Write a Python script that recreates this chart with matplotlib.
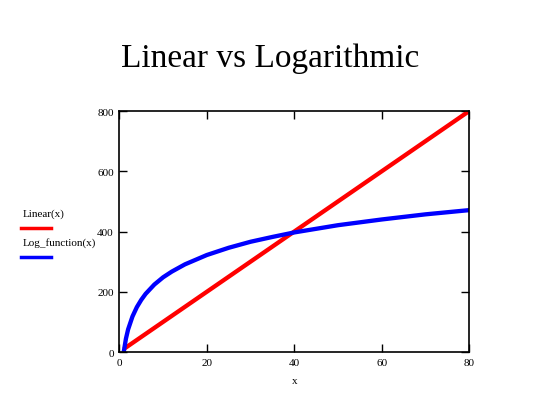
import numpy as np
import matplotlib.pyplot as plt
from matplotlib.lines import Line2D

# values
x_vals = [1, 1.5, 2, 3, 4, 5, 6, 8, 10, 12, 15, 20, 25, 30, 35, 40, 45, 50, 60, 70, 80]
linear_vals = [10, 15, 20, 30, 40, 50, 60, 80, 100, 120, 150, 200, 250, 300, 350, 400, 450, 500, 600, 700, 800]
log_vals = [0, 44, 75, 118, 149, 173, 193, 224, 248, 267, 291, 322, 346, 366, 382, 397, 409, 421, 440, 457, 471]

x_ticks = [0, 20, 40, 60, 80]
y_ticks = [0, 200, 400, 600, 800]

plt.rcParams['font.family'] = ['Liberation Serif', 'DejaVu Serif']

fig = plt.figure(figsize=(5.45, 4.06), dpi=100)
ax = fig.add_axes([0.219, 0.1305, 0.642, 0.5936])

ax.plot(x_vals, linear_vals, color='#ff0000', linewidth=3.1, solid_capstyle='butt')
ax.plot(x_vals, log_vals, color='#0000ff', linewidth=3.1, solid_capstyle='butt')

ax.set_xlim(0, 80)
ax.set_ylim(0, 800)
ax.set_xticks(x_ticks)
ax.set_yticks(y_ticks)
ax.tick_params(direction='in', top=True, right=True, length=6, width=1,
               labelsize=8, pad=4)
for s in ax.spines.values():
    s.set_linewidth(1.2)
ax.set_xlabel('x', fontsize=8, labelpad=7)

fig.text(0.495, 0.855, 'Linear vs Logarithmic', ha='center', va='center', fontsize=24)

# legend at the left, label above its line
fig.text(0.042, 0.472, 'Linear(x)', fontsize=8, va='center')
fig.add_artist(Line2D([0.038, 0.093], [0.436, 0.436], color='#ff0000', linewidth=2.5))
fig.text(0.042, 0.402, 'Log_function(x)', fontsize=8, va='center')
fig.add_artist(Line2D([0.038, 0.093], [0.365, 0.365], color='#0000ff', linewidth=2.5))

fig.savefig('out.png', dpi=100)
